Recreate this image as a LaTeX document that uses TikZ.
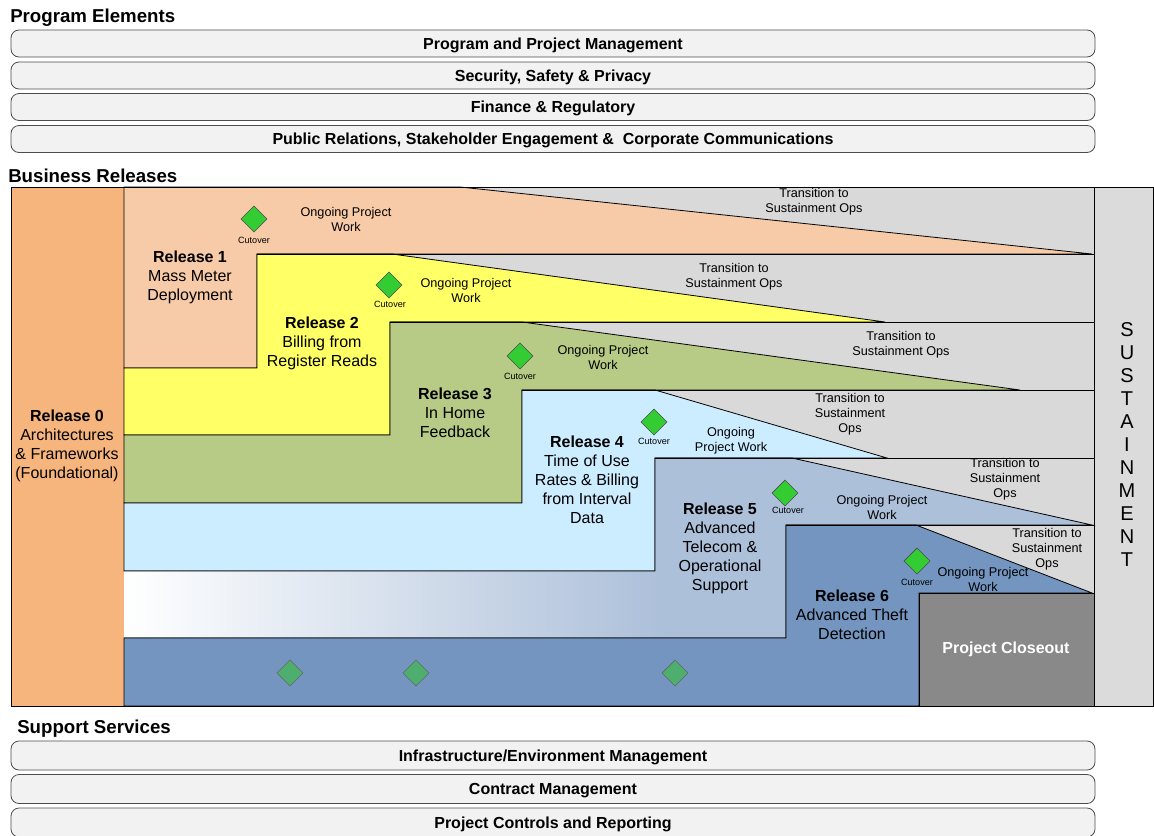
\documentclass[tikz,border=0pt]{standalone}
\usepackage{fontspec}
\setmainfont{Liberation Sans}
\usetikzlibrary{shapes.geometric,positioning}

\definecolor{relzero}{RGB}{247,181,126}
\definecolor{relone}{RGB}{248,203,168}
\definecolor{reltwo}{RGB}{255,255,102}
\definecolor{relthree}{RGB}{183,202,134}
\definecolor{relfour}{RGB}{204,236,255}
\definecolor{relfive}{RGB}{173,192,218}
\definecolor{relsix}{RGB}{115,149,191}
\definecolor{transgray}{RGB}{217,217,217}
\definecolor{sustgray}{RGB}{219,219,219}
\definecolor{closegray}{RGB}{137,137,137}
\definecolor{cutgreen}{RGB}{51,204,51}
\definecolor{milegreen}{RGB}{77,174,110}
\definecolor{barfill}{RGB}{242,242,242}

\tikzset{
  sectitle/.style={anchor=base west, inner sep=0pt, font=\bfseries\fontsize{14}{16}\selectfont},
  elembar/.style={draw=black!70, fill=barfill, rounded corners=6pt, line width=0.6pt,
    minimum width=813pt, minimum height=20.25pt, inner sep=0pt,
    text height=8.6pt, text depth=0pt, font=\bfseries\fontsize{12}{14}\selectfont},
  suppbar/.style={elembar, minimum height=21.75pt},
  stairline/.style={draw=black, line width=0.6pt},
  reltext/.style={align=center, inner sep=0pt, font=\fontsize{12}{14.25}\selectfont},
  worktext/.style={align=center, inner sep=0pt, font=\fontsize{9.5}{11.25}\selectfont},
  cutlabel/.style={inner sep=0pt, font=\fontsize{6.8}{8}\selectfont},
  cutover/.style={diamond, draw=black!70, fill=cutgreen, minimum size=19.5pt, inner sep=0pt},
  milestone/.style={diamond, draw=black!60, fill=milegreen, minimum size=19.5pt, inner sep=0pt},
}

\begin{document}
\begin{tikzpicture}[x=0.75pt, y=-0.75pt]
  \useasboundingbox (0,0) rectangle (1154,836);

  % Program elements
  \node[sectitle] (progtitle) at (10,22.5) {Program Elements};
  \node[elembar] (ppm) at (553,43.5) {Program and Project Management};
  \node[elembar] (ssp) at (553,75.5) {Security, Safety \& Privacy};
  \node[elembar] (finreg) at (553,107) {Finance \& Regulatory};
  \node[elembar] (pubrel) at (553,139) {Public Relations, Stakeholder Engagement \&\ \ Corporate Communications};

  % Business releases
  \node[sectitle] (bustitle) at (8,182) {Business Releases};
  \fill[transgray] (124,187) rectangle (1094,593);
  \draw[stairline, fill=relzero] (11,187) rectangle (124,706);
  \draw[stairline, fill=sustgray] (1094,187) rectangle (1153.5,706);

  % Release 1 to 6 staircase
  \draw[stairline, fill=relone] (124,187) -- (460,187) -- (1092,254) -- (257,254) -- (257,368) -- (124,368) -- cycle;
  \draw[stairline, fill=reltwo] (124,368) -- (257,368) -- (257,254) -- (392,254) -- (885,322) -- (390,322) -- (390,435) -- (124,435) -- cycle;
  \draw[stairline, fill=relthree] (124,435) -- (390,435) -- (390,322) -- (522,322) -- (1020,390) -- (522,390) -- (522,503) -- (124,503) -- cycle;
  \draw[stairline, fill=relfour] (124,503) -- (522,503) -- (522,390) -- (655,390) -- (887,458) -- (655,458) -- (655,571) -- (124,571) -- cycle;
  \fill[relfive] (124,571) -- (655,571) -- (655,458) -- (792,458) -- (1092,525) -- (786,525) -- (786,638) -- (124,638) -- cycle;
  \shade[left color=white, right color=relfive] (124,571) rectangle (660,638);
  \draw[stairline] (124,571) -- (655,571) -- (655,458) -- (792,458) -- (1092,525) -- (786,525) -- (786,638) -- (124,638);
  \draw[stairline, fill=relsix] (124,638) -- (786,638) -- (786,525) -- (916,525) -- (1092,593) -- (919,593) -- (919,706) -- (124,706) -- cycle;
  \draw[stairline, fill=closegray] (919,593) rectangle (1094,706);

  % band edges across the transition area
  \draw[stairline] (257,254) -- (1094,254);
  \draw[stairline] (390,322) -- (1094,322);
  \draw[stairline] (522,390) -- (1094,390);
  \draw[stairline] (655,458) -- (1094,458);
  \draw[stairline] (786,525) -- (1094,525);
  \draw[stairline] (11,187) rectangle (1153.5,706);

  % release labels
  \node[reltext] (rel0) at (67,446) {\textbf{Release 0}\\Architectures\\\& Frameworks\\(Foundational)};
  \node[reltext] (rel1) at (190,277) {\textbf{Release 1}\\Mass Meter\\Deployment};
  \node[reltext] (rel2) at (322,343) {\textbf{Release 2}\\Billing from\\Register Reads};
  \node[reltext] (rel3) at (455,413) {\textbf{Release 3}\\In Home\\Feedback};
  \node[reltext] (rel4) at (587,480) {\textbf{Release 4}\\Time of Use\\Rates \& Billing\\from Interval\\Data};
  \node[reltext] (rel5) at (720,548) {\textbf{Release 5}\\Advanced\\Telecom \&\\Operational\\Support};
  \node[reltext] (rel6) at (852,615) {\textbf{Release 6}\\Advanced Theft\\Detection};
  \node[reltext, text=white, font=\bfseries\fontsize{12}{14}\selectfont] (closeout) at (1006,649) {Project Closeout};
  \node[reltext, font=\fontsize{15}{17.25}\selectfont] (sustain) at (1127,445) {S\\U\\S\\T\\A\\I\\N\\M\\E\\N\\T};

  % cutover points
  \node[cutover] (cut1) at (254,219) {};
  \node[cutover] (cut2) at (389,285) {};
  \node[cutover] (cut3) at (520,356) {};
  \node[cutover] (cut4) at (654,422) {};
  \node[cutover] (cut5) at (785,493) {};
  \node[cutover] (cut6) at (917,561) {};
  \node[cutlabel] (cutlbl1) at (254,240) {Cutover};
  \node[cutlabel] (cutlbl2) at (390,304) {Cutover};
  \node[cutlabel] (cutlbl3) at (520,376) {Cutover};
  \node[cutlabel] (cutlbl4) at (654,441) {Cutover};
  \node[cutlabel] (cutlbl5) at (788,510) {Cutover};
  \node[cutlabel] (cutlbl6) at (917,582) {Cutover};

  % ongoing work and transition
  \node[worktext] (work1) at (346,219.5) {Ongoing Project\\Work};
  \node[worktext] (work2) at (466,290) {Ongoing Project\\Work};
  \node[worktext] (work3) at (603,357.5) {Ongoing Project\\Work};
  \node[worktext] (work4) at (731,441) {Ongoing\\Project Work};
  \node[worktext] (work5) at (882,507) {Ongoing Project\\Work};
  \node[worktext] (work6) at (983,579.5) {Ongoing Project\\Work};
  \node[worktext] (trans1) at (814,201.5) {Transition to\\Sustainment Ops};
  \node[worktext] (trans2) at (734,276.5) {Transition to\\Sustainment Ops};
  \node[worktext] (trans3) at (901,344.5) {Transition to\\Sustainment Ops};
  \node[worktext] (trans4) at (850,414) {Transition to\\Sustainment\\Ops};
  \node[worktext] (trans5) at (1005,479.5) {Transition to\\Sustainment\\Ops};
  \node[worktext] (trans6) at (1047,549.5) {Transition to\\Sustainment\\Ops};

  % milestones in release 6 band
  \node[milestone] (mile1) at (290,673) {};
  \node[milestone] (mile2) at (416,673) {};
  \node[milestone] (mile3) at (675,673) {};

  % Support services
  \node[sectitle] (supptitle) at (17,733) {Support Services};
  \node[suppbar] (infra) at (553,755.5) {Infrastructure/Environment Management};
  \node[suppbar] (contract) at (553,789) {Contract Management};
  \node[suppbar] (controls) at (553,822.5) {Project Controls and Reporting};
\end{tikzpicture}
\end{document}
